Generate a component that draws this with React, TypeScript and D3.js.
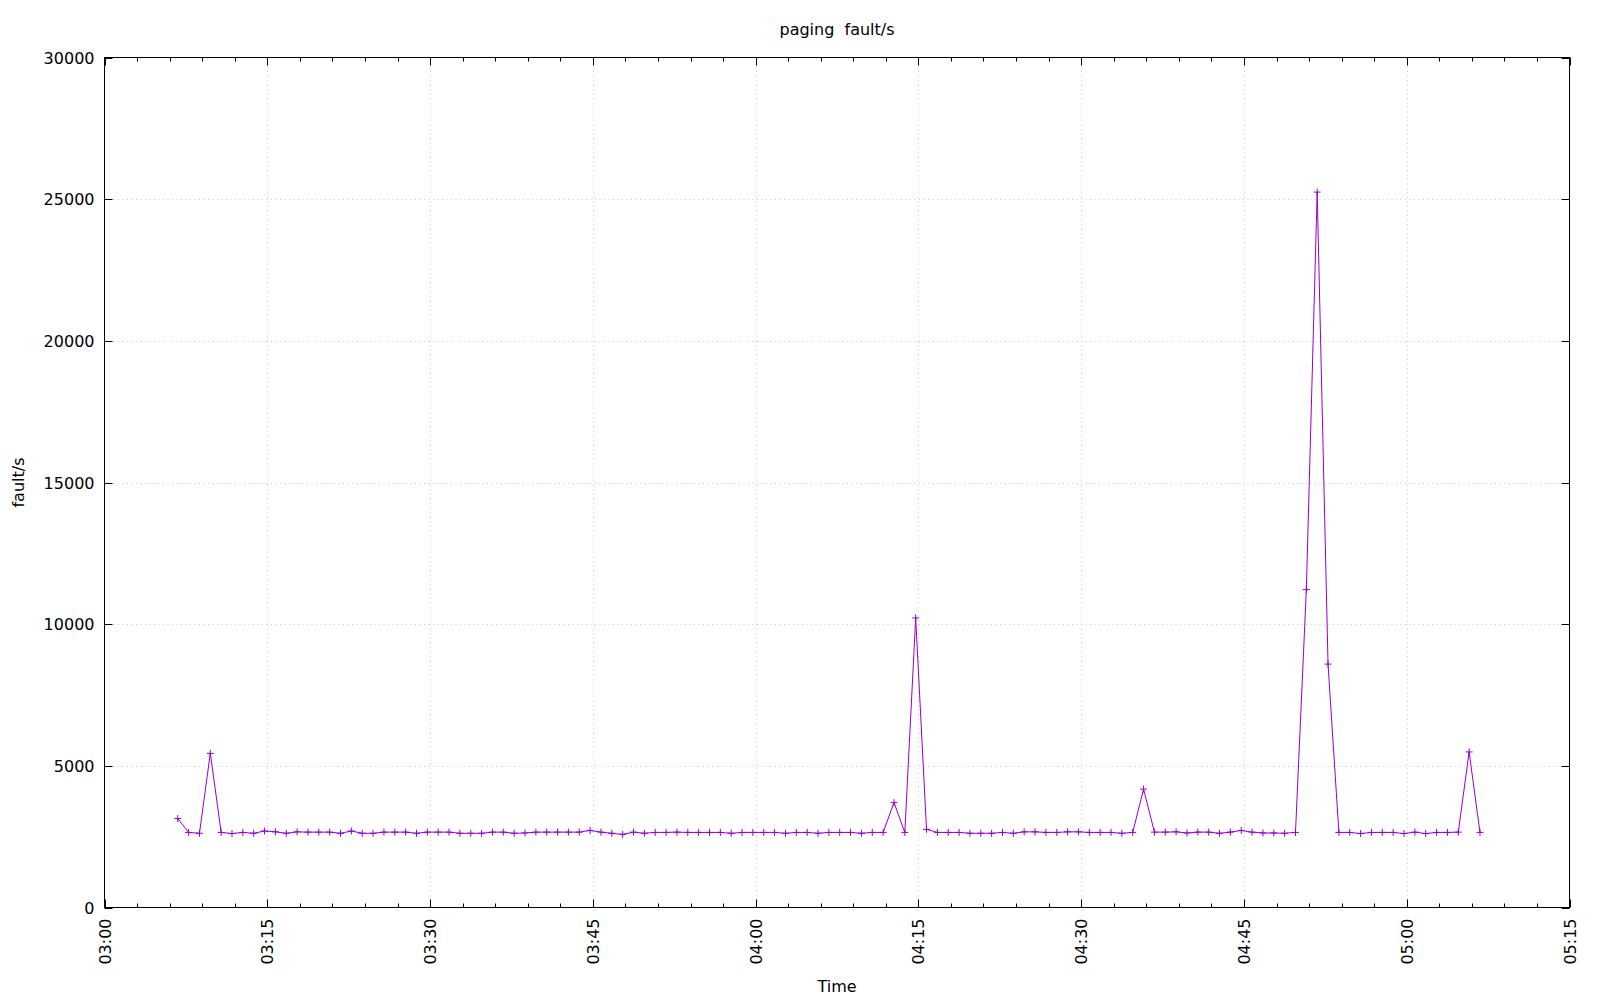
import React from "react";
import * as d3 from "d3";

const TITLE = "paging  fault/s";
const Y_LABEL = "fault/s";
const X_LABEL = "Time";

const times: string[] = [
  "03:06:45", "03:07:45", "03:08:45", "03:09:45", "03:10:45", "03:11:45", "03:12:45", "03:13:45", "03:14:45", "03:15:45",
  "03:16:45", "03:17:45", "03:18:45", "03:19:45", "03:20:45", "03:21:45", "03:22:45", "03:23:45", "03:24:45", "03:25:45",
  "03:26:45", "03:27:45", "03:28:45", "03:29:45", "03:30:45", "03:31:45", "03:32:45", "03:33:45", "03:34:45", "03:35:45",
  "03:36:45", "03:37:45", "03:38:45", "03:39:45", "03:40:45", "03:41:45", "03:42:45", "03:43:45", "03:44:45", "03:45:45",
  "03:46:45", "03:47:45", "03:48:45", "03:49:45", "03:50:45", "03:51:45", "03:52:45", "03:53:45", "03:54:45", "03:55:45",
  "03:56:45", "03:57:45", "03:58:45", "03:59:45", "04:00:45", "04:01:45", "04:02:45", "04:03:45", "04:04:45", "04:05:45",
  "04:06:45", "04:07:45", "04:08:45", "04:09:45", "04:10:45", "04:11:45", "04:12:45", "04:13:45", "04:14:45", "04:15:45",
  "04:16:45", "04:17:45", "04:18:45", "04:19:45", "04:20:45", "04:21:45", "04:22:45", "04:23:45", "04:24:45", "04:25:45",
  "04:26:45", "04:27:45", "04:28:45", "04:29:45", "04:30:45", "04:31:45", "04:32:45", "04:33:45", "04:34:45", "04:35:45",
  "04:36:45", "04:37:45", "04:38:45", "04:39:45", "04:40:45", "04:41:45", "04:42:45", "04:43:45", "04:44:45", "04:45:45",
  "04:46:45", "04:47:45", "04:48:45", "04:49:45", "04:50:45", "04:51:45", "04:52:45", "04:53:45", "04:54:45", "04:55:45",
  "04:56:45", "04:57:45", "04:58:45", "04:59:45", "05:00:45", "05:01:45", "05:02:45", "05:03:45", "05:04:45", "05:05:45",
  "05:06:45",
];

const faults: number[] = [
  3140, 2650, 2620, 5440, 2650, 2610, 2650, 2620, 2700, 2670,
  2620, 2670, 2660, 2660, 2660, 2620, 2700, 2620, 2620, 2660,
  2660, 2660, 2620, 2660, 2660, 2660, 2620, 2620, 2620, 2660,
  2660, 2620, 2630, 2660, 2660, 2660, 2660, 2660, 2720, 2660,
  2620, 2580, 2660, 2620, 2650, 2650, 2660, 2650, 2650, 2650,
  2650, 2620, 2650, 2650, 2650, 2650, 2620, 2650, 2650, 2620,
  2650, 2650, 2650, 2620, 2650, 2650, 3700, 2650, 10220, 2760,
  2650, 2650, 2650, 2620, 2620, 2620, 2650, 2620, 2670, 2670,
  2650, 2650, 2670, 2670, 2650, 2650, 2650, 2620, 2650, 4180,
  2660, 2660, 2670, 2630, 2660, 2660, 2620, 2660, 2720, 2660,
  2630, 2630, 2620, 2650, 11220, 25250, 8590, 2650, 2650, 2610,
  2650, 2650, 2650, 2610, 2660, 2610, 2650, 2650, 2660, 5490,
  2650,
];

const X_START = "03:00:00";
const X_END = "05:15:00";
const yTicks: number[] = [0, 5000, 10000, 15000, 20000, 25000, 30000];

const parse = d3.timeParse("%H:%M:%S");
const fmt = d3.timeFormat("%H:%M");

export default function App() {
  const W = 1600, H = 1000;
  const L = 104.5, R = 1569.5, T = 57.5, B = 907.5;
  const font = "'DejaVu Sans', sans-serif";
  const color = "#9400d3";

  const x = d3.scaleTime().domain([parse(X_START)!, parse(X_END)!]).range([L, R]);
  const y = d3.scaleLinear().domain([0, 30000]).range([B, T]);

  const data = times.map((t, i) => ({ t: parse(t)!, v: faults[i] }));
  const line = d3.line<{ t: Date; v: number }>().x(d => x(d.t)).y(d => y(d.v));

  const majorX = x.ticks(d3.timeMinute.every(15)!);
  const minorX = x.ticks(d3.timeMinute.every(3)!).filter(d => d.getMinutes() % 15 !== 0);

  return (
    <svg width={W} height={H} style={{ position: "absolute", left: 0, top: 0, background: "#fff" }}
      fontFamily={font} fontSize={16}>
      <rect x={0} y={0} width={W} height={H} fill="#fff" />
      {/* grid */}
      {majorX.filter(d => x(d) > L + 1 && x(d) < R - 1).map((d, i) => (
        <line key={"gx" + i} x1={Math.round(x(d)) + 0.5} x2={Math.round(x(d)) + 0.5} y1={T} y2={B}
          stroke="#c8c8c8" strokeWidth={1} strokeDasharray="1,3.5" />
      ))}
      {yTicks.filter(v => v > 0 && v < 30000).map((v, i) => (
        <line key={"gy" + i} x1={L} x2={R} y1={Math.round(y(v)) + 0.5} y2={Math.round(y(v)) + 0.5}
          stroke="#c8c8c8" strokeWidth={1} strokeDasharray="1,3.5" />
      ))}
      {/* ticks */}
      {majorX.map((d, i) => {
        const px = Math.round(x(d)) + 0.5;
        return (
          <g key={"mx" + i}>
            <line x1={px} x2={px} y1={B} y2={B - 8} stroke="#000" />
            <line x1={px} x2={px} y1={T} y2={T + 8} stroke="#000" />
            <text transform={`translate(${px},${B + 11}) rotate(-90)`} textAnchor="end" dy="0.36em" fill="#000">
              {fmt(d)}
            </text>
          </g>
        );
      })}
      {minorX.map((d, i) => {
        const px = Math.round(x(d)) + 0.5;
        return (
          <g key={"nx" + i}>
            <line x1={px} x2={px} y1={B} y2={B - 4} stroke="#000" />
            <line x1={px} x2={px} y1={T} y2={T + 4} stroke="#000" />
          </g>
        );
      })}
      {yTicks.map((v, i) => {
        const py = Math.round(y(v)) + 0.5;
        return (
          <g key={"ty" + i}>
            <line x1={L} x2={L + 8} y1={py} y2={py} stroke="#000" />
            <line x1={R} x2={R - 8} y1={py} y2={py} stroke="#000" />
            <text x={L - 10} y={py} dy="0.37em" textAnchor="end" fill="#000">{v}</text>
          </g>
        );
      })}
      {/* data */}
      <path d={line(data) || ""} fill="none" stroke={color} strokeWidth={1} />
      {data.map((d, i) => {
        const px = x(d.t), py = y(d.v);
        return (
          <path key={"p" + i} d={`M${px - 3.5},${py}H${px + 3.5}M${px},${py - 3.5}V${py + 3.5}`}
            stroke={color} strokeWidth={1} fill="none" />
        );
      })}
      {/* border */}
      <rect x={L} y={T} width={R - L} height={B - T} fill="none" stroke="#000" strokeWidth={1} />
      {/* labels */}
      <text x={(L + R) / 2} y={34.5} textAnchor="middle" fill="#000" style={{ whiteSpace: "pre" }} xmlSpace="preserve">{TITLE}</text>
      <text x={(L + R) / 2} y={992} textAnchor="middle" fill="#000">{X_LABEL}</text>
      <text transform={`translate(24,${(T + B) / 2}) rotate(-90)`} textAnchor="middle" fill="#000">{Y_LABEL}</text>
    </svg>
  );
}
